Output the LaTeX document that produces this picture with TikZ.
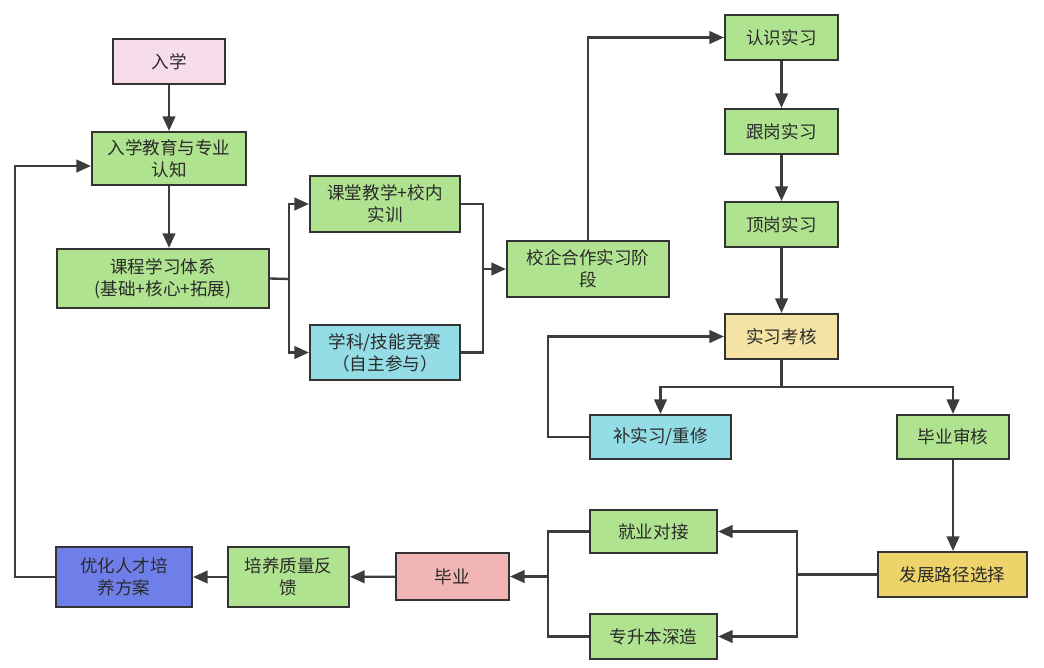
\documentclass[tikz,border=0pt]{standalone}
\usepackage{fontspec}
\setmainfont{Noto Sans CJK SC}
\usetikzlibrary{arrows.meta,calc}
\definecolor{gfill}{HTML}{B0E38F}
\definecolor{pinkfill}{HTML}{F7DCEB}
\definecolor{cyanfill}{HTML}{94DDE6}
\definecolor{yelfill}{HTML}{F5E3A3}
\definecolor{goldfill}{HTML}{EDD36A}
\definecolor{salfill}{HTML}{F2B5B5}
\definecolor{bluefill}{HTML}{6F7FEA}
\definecolor{edge}{HTML}{333333}
\definecolor{lin}{HTML}{3C3C3C}
\definecolor{txt}{HTML}{2A2A2A}
\begin{document}
\begin{tikzpicture}[x=0.02cm,y=-0.02cm,
  box/.style={draw=edge,line width=1.2pt,rectangle,inner sep=0pt,align=center,
    text=txt,font=\fontsize{10pt}{12.5pt}\selectfont,fill=gfill},
  arr/.style={draw=lin,line width=1.35pt,-{Triangle[length=2.9mm,width=2.5mm]}},
  ln/.style={draw=lin,line width=1.35pt}]
\useasboundingbox (0,0) rectangle (1044,667);
\node[box,fill=pinkfill,minimum width=2.24cm,minimum height=0.90cm] (ru) at (169,61.5) {入学};
\node[box,minimum width=3.08cm,minimum height=1.06cm] (edu) at (169,158.5) {入学教育与专业\\认知};
\node[box,minimum width=4.24cm,minimum height=1.18cm] (kc) at (163,278.5) {课程学习体系\\(基础+核心+拓展)};
\node[box,minimum width=3.00cm,minimum height=1.12cm] (kt) at (385,204) {课堂教学+校内\\实训};
\node[box,fill=cyanfill,minimum width=3.00cm,minimum height=1.10cm] (js) at (385,352.5) {学科/技能竞赛\\（自主参与）};
\node[box,minimum width=3.24cm,minimum height=1.12cm] (xq) at (588,269) {校企合作实习阶\\段};
\node[box,minimum width=2.26cm,minimum height=0.90cm] (rs) at (781.5,37.5) {认识实习};
\node[box,minimum width=2.26cm,minimum height=0.90cm] (gg) at (781.5,131.5) {跟岗实习};
\node[box,minimum width=2.26cm,minimum height=0.90cm] (dg) at (781.5,224.5) {顶岗实习};
\node[box,fill=yelfill,minimum width=2.26cm,minimum height=0.90cm] (kh) at (781.5,336.5) {实习考核};
\node[box,fill=cyanfill,minimum width=2.82cm,minimum height=0.88cm] (bs) at (660.5,437) {补实习/重修};
\node[box,minimum width=2.24cm,minimum height=0.88cm] (bh) at (953,437) {毕业审核};
\node[box,fill=goldfill,minimum width=2.98cm,minimum height=0.90cm] (fz) at (952.5,574.5) {发展路径选择};
\node[box,minimum width=2.54cm,minimum height=0.86cm] (jy) at (653.5,531.5) {就业对接};
\node[box,minimum width=2.54cm,minimum height=0.90cm] (zs) at (653.5,636.5) {专升本深造};
\node[box,fill=salfill,minimum width=2.26cm,minimum height=0.94cm] (by) at (452.5,576.5) {毕业};
\node[box,minimum width=2.42cm,minimum height=1.20cm] (py) at (288.5,577) {培养质量反\\馈};
\node[box,fill=bluefill,minimum width=2.72cm,minimum height=1.20cm] (yh) at (124,577) {优化人才培\\养方案};
% coordinates
\coordinate (fk) at (289,279);
\coordinate (mg) at (483,269);
\coordinate (sp) at (781.5,387);
\coordinate (lp) at (548,437);
\coordinate (fj) at (797,574.5);
\coordinate (bm) at (548,576.5);
\coordinate (fb) at (15,166);
% connectors
\draw[arr] (ru) -- (edu);
\draw[arr] (edu.south) -- (edu.south |- kc.north);
\draw[ln] (kc.east) -- (fk);
\draw[arr] (fk) |- (kt.west);
\draw[arr] (fk) |- (js.west);
\draw[ln] (kt.east) -| (mg);
\draw[ln] (js.east) -| (mg);
\draw[arr] (mg) -- (xq.west);
\draw[arr] (xq.north) |- (rs.west);
\draw[arr] (rs) -- (gg);
\draw[arr] (gg) -- (dg);
\draw[arr] (dg) -- (kh);
\draw[ln] (kh.south) -- (sp);
\draw[arr] (sp) -| (bs.north);
\draw[arr] (sp) -| (bh.north);
\draw[arr] (bs.west) -- (lp) |- (kh.west);
\draw[arr] (bh.south) -- (bh.south |- fz.north);
\draw[ln] (fz.west) -- (fj);
\draw[arr] (fj) |- (jy.east);
\draw[arr] (fj) |- (zs.east);
\draw[ln] (jy.west) -| (bm);
\draw[ln] (zs.west) -| (bm);
\draw[arr] (bm) -- (by.east);
\draw[arr] (by) -- (py);
\draw[arr] (py) -- (yh);
\draw[arr] (yh.west) -| (fb) -- (fb -| edu.west);
\end{tikzpicture}
\end{document}
